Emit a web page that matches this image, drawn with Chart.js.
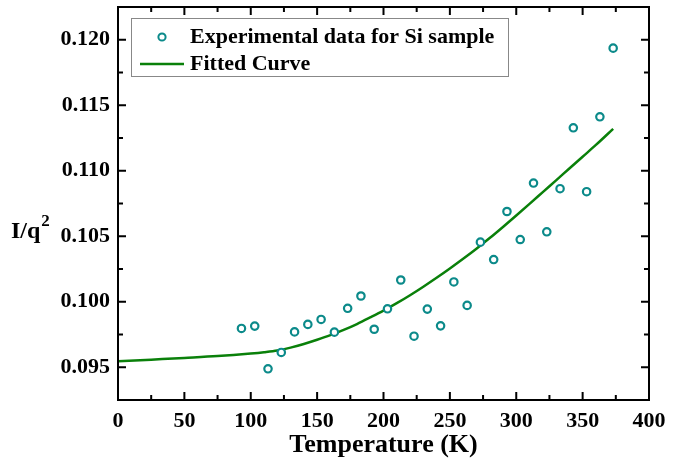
<!DOCTYPE html>
<html>
<head>
<meta charset="utf-8">
<script src="https://cdn.jsdelivr.net/npm/chart.js@4.4.1/dist/chart.umd.min.js"></script>
<style>
  html, body { margin: 0; padding: 0; background: #fff; }
  #wrap { width: 689px; height: 460px; }
</style>
</head>
<body>
<div id="wrap"><canvas id="myChart" width="689" height="460"></canvas></div>
<script>
// measured points (Si sample)
var tempPts = [93, 103, 113, 123, 133, 143, 153, 163, 173, 183, 193, 203, 213, 223, 233, 243, 253, 263, 273, 283, 293, 303, 313, 323, 333, 343, 353, 363, 373];
var iqPts = [0.09796, 0.09814, 0.09488, 0.09613, 0.0977, 0.09827, 0.09865, 0.09768, 0.0995, 0.10044, 0.0979, 0.09946, 0.10166, 0.09737, 0.09944, 0.09816, 0.10151, 0.09972, 0.10455, 0.10322, 0.10689, 0.10475, 0.10906, 0.10534, 0.10863, 0.11328, 0.1084, 0.11412, 0.11936];

// fitted curve
var tempFit = [0, 25, 50, 75, 100, 110, 120, 130, 140, 150, 160, 170, 180, 190, 200, 210, 220, 230, 240, 250, 260, 270, 280, 290, 300, 310, 320, 330, 340, 350, 360, 373];
var iqFit = [0.09545, 0.09558, 0.09571, 0.09585, 0.09605, 0.09615, 0.09628, 0.0965, 0.09678, 0.0971, 0.09745, 0.09785, 0.0983, 0.0988, 0.09932, 0.09989, 0.1005, 0.10115, 0.10183, 0.10254, 0.10328, 0.10405, 0.10486, 0.10571, 0.10658, 0.10747, 0.10837, 0.10927, 0.11017, 0.11107, 0.11197, 0.1132];

var xTicks = [0, 50, 100, 150, 200, 250, 300, 350, 400];
var yTicks = [0.095, 0.100, 0.105, 0.110, 0.115, 0.120];

var serif = '"Liberation Serif", "Times New Roman", serif';

// frame, inward ticks, titles and legend
var framePlugin = {
  id: 'frame',
  afterDraw: function(chart) {
    var ctx = chart.ctx;
    var a = chart.chartArea;
    var xs = chart.scales.x, ys = chart.scales.y;
    ctx.save();
    ctx.strokeStyle = '#000';
    ctx.lineWidth = 2;
    ctx.beginPath();
    // x ticks every 25
    for (var v = 0; v <= 400; v += 25) {
      var px = xs.getPixelForValue(v);
      var len = (v % 50 === 0) ? 8 : 5;
      ctx.moveTo(px, a.bottom); ctx.lineTo(px, a.bottom - len);
      ctx.moveTo(px, a.top); ctx.lineTo(px, a.top + len);
    }
    // y ticks every 0.0025
    for (var i = 0; i <= 11; i++) {
      var val = 0.095 + i * 0.0025;
      var py = ys.getPixelForValue(val);
      var l = (i % 2 === 0) ? 8 : 5;
      ctx.moveTo(a.left, py); ctx.lineTo(a.left + l, py);
      ctx.moveTo(a.right, py); ctx.lineTo(a.right - l, py);
    }
    ctx.stroke();
    ctx.strokeRect(a.left, a.top, a.right - a.left, a.bottom - a.top);

    // axis titles
    ctx.fillStyle = '#000';
    ctx.textAlign = 'center';
    ctx.textBaseline = 'alphabetic';
    ctx.font = 'bold 26px ' + serif;
    ctx.fillText('Temperature (K)', (a.left + a.right) / 2, 452);
    ctx.textAlign = 'left';
    ctx.font = 'bold 24px ' + serif;
    ctx.fillText('I/q', 11, 238);
    var w = ctx.measureText('I/q').width;
    ctx.font = 'bold 17px ' + serif;
    ctx.fillText('2', 12 + w, 226);

    // legend box
    ctx.lineWidth = 1;
    ctx.strokeStyle = '#888';
    ctx.fillStyle = '#fff';
    ctx.fillRect(131, 18, 377, 58);
    ctx.strokeRect(131.5, 18.5, 377, 58);
    ctx.beginPath();
    ctx.arc(162, 37, 3.6, 0, Math.PI * 2);
    ctx.lineWidth = 2;
    ctx.strokeStyle = '#0b8a8a';
    ctx.stroke();
    ctx.beginPath();
    ctx.moveTo(140, 64); ctx.lineTo(184, 64);
    ctx.lineWidth = 2.5;
    ctx.strokeStyle = '#0a800a';
    ctx.stroke();
    ctx.fillStyle = '#000';
    ctx.font = 'bold 22px ' + serif;
    ctx.textBaseline = 'middle';
    ctx.fillText('Experimental data for Si sample', 190, 37);
    ctx.fillText('Fitted Curve', 190, 64);
    ctx.restore();
  }
};

var ptsData = tempPts.map(function(t, i) { return { x: t, y: iqPts[i] }; });
var fitData = tempFit.map(function(t, i) { return { x: t, y: iqFit[i] }; });

var ctx = document.getElementById('myChart').getContext('2d');
new Chart(ctx, {
  type: 'scatter',
  data: {
    datasets: [
      {
        label: 'Experimental data for Si sample',
        data: ptsData,
        pointRadius: 3.7,
        pointBorderWidth: 2.2,
        pointBorderColor: '#0b8a8a',
        pointBackgroundColor: '#fff',
        showLine: false
      },
      {
        label: 'Fitted Curve',
        data: fitData,
        showLine: true,
        pointRadius: 0,
        borderColor: '#0a800a',
        borderWidth: 2.5,
        cubicInterpolationMode: 'monotone'
      }
    ]
  },
  options: {
    responsive: false,
    animation: false,
    layout: { autoPadding: false, padding: { top: 7, right: 40, left: 0, bottom: 0 } },
    plugins: {
      legend: { display: false },
      tooltip: { enabled: false }
    },
    scales: {
      x: {
        type: 'linear',
        min: 0, max: 400,
        afterBuildTicks: function(s) { s.ticks = xTicks.map(function(v) { return { value: v }; }); },
        afterFit: function(s) { s.height = 60; s.paddingLeft = 0; s.paddingRight = 0; },
        grid: { display: false, drawTicks: false },
        border: { display: false },
        ticks: {
          padding: 8,
          color: '#000',
          font: { family: serif, size: 22, weight: 'bold' },
          maxRotation: 0
        }
      },
      y: {
        type: 'linear',
        min: 0.0925, max: 0.1225,
        afterBuildTicks: function(s) { s.ticks = yTicks.map(function(v) { return { value: v }; }); },
        afterFit: function(s) { s.width = 118; s.paddingTop = 0; s.paddingBottom = 0; },
        grid: { display: false, drawTicks: false },
        border: { display: false },
        ticks: {
          padding: 8,
          color: '#000',
          font: { family: serif, size: 22, weight: 'bold' },
          callback: function(v) { return v.toFixed(3); }
        }
      }
    }
  },
  plugins: [framePlugin]
});
</script>
</body>
</html>
